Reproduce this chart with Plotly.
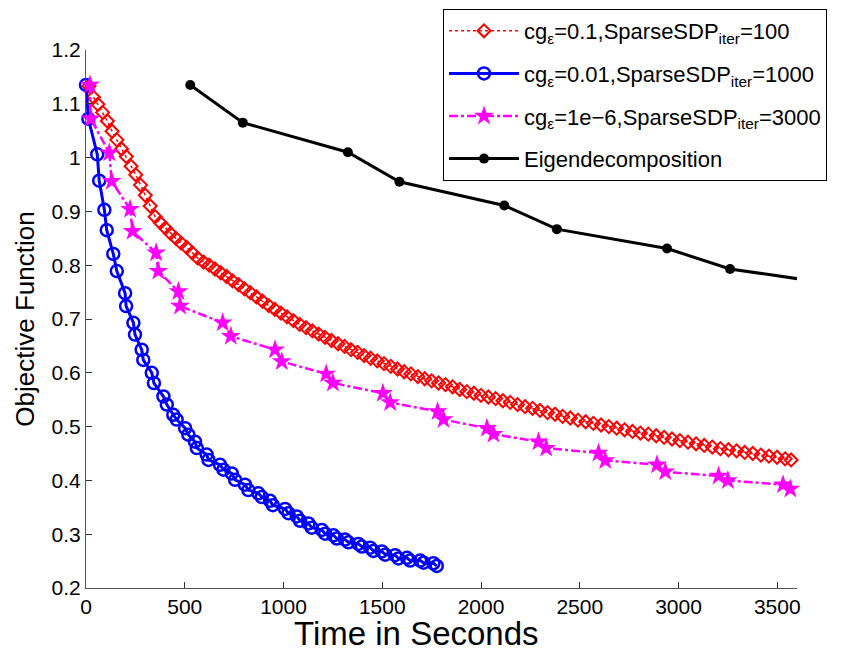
import plotly.graph_objects as go

# ---------------- data ----------------
red_x = [15, 38, 60, 84, 108, 132, 156, 180, 204, 228, 252, 276, 300, 325, 350, 376, 402, 428, 455, 482,
         510, 538, 566, 595, 624, 653, 682, 712, 742, 772, 802, 832, 863, 894, 925, 956, 987, 1018, 1050, 1082,
         1114, 1146, 1178, 1210, 1243, 1276, 1309, 1342, 1375, 1408, 1441, 1475, 1509, 1543, 1577, 1611, 1645,
         1680, 1715, 1750, 1785, 1820, 1856, 1892, 1928, 1964, 2000, 2037, 2074, 2111, 2148, 2185, 2223, 2261,
         2299, 2337, 2375, 2413, 2452, 2491, 2530, 2569, 2608, 2647, 2687, 2727, 2767, 2807, 2847, 2887, 2927,
         2967, 3007, 3048, 3089, 3130, 3171, 3212, 3253, 3294, 3335, 3376, 3417, 3458, 3499, 3540, 3570]
red_y = [1.133, 1.112, 1.099, 1.084, 1.068, 1.049, 1.033, 1.016, 1.002, 0.984, 0.968, 0.949, 0.930, 0.910,
         0.890, 0.879, 0.869, 0.859, 0.850, 0.841, 0.833, 0.823, 0.813, 0.806, 0.800, 0.793, 0.786, 0.779,
         0.771, 0.764, 0.756, 0.749, 0.741, 0.733, 0.725, 0.718, 0.711, 0.704, 0.697, 0.690, 0.684, 0.678,
         0.672, 0.666, 0.660, 0.654, 0.649, 0.643, 0.638, 0.632, 0.627, 0.622, 0.617, 0.612, 0.607, 0.602,
         0.598, 0.593, 0.589, 0.585, 0.581, 0.578, 0.574, 0.569, 0.565, 0.562, 0.558, 0.555, 0.552, 0.548,
         0.545, 0.541, 0.537, 0.534, 0.530, 0.526, 0.523, 0.519, 0.516, 0.512, 0.509, 0.506, 0.503, 0.500,
         0.497, 0.494, 0.491, 0.488, 0.486, 0.483, 0.480, 0.477, 0.474, 0.471, 0.468, 0.465, 0.462, 0.459,
         0.457, 0.455, 0.452, 0.450, 0.447, 0.445, 0.443, 0.440, 0.438]

blue_x = [0, 12, 57, 67, 93, 105, 138, 156, 198, 203, 240, 248, 282, 290, 333, 344, 392, 409, 442, 459,
          502, 518, 552, 561, 611, 620, 679, 696, 738, 755, 805, 822, 873, 890, 932, 946, 1008, 1025, 1067,
          1084, 1126, 1143, 1194, 1211, 1253, 1270, 1312, 1329, 1379, 1397, 1439, 1455, 1498, 1515, 1565,
          1582, 1625, 1641, 1692, 1709, 1759, 1776]
blue_y = [1.135, 1.072, 1.006, 0.957, 0.903, 0.865, 0.821, 0.789, 0.748, 0.724, 0.693, 0.671, 0.643, 0.624,
          0.600, 0.581, 0.556, 0.541, 0.522, 0.513, 0.497, 0.485, 0.472, 0.460, 0.448, 0.438, 0.429, 0.420,
          0.413, 0.401, 0.392, 0.382, 0.376, 0.369, 0.362, 0.354, 0.347, 0.339, 0.333, 0.325, 0.320, 0.312,
          0.308, 0.301, 0.298, 0.292, 0.290, 0.285, 0.282, 0.277, 0.275, 0.269, 0.268, 0.262, 0.261, 0.255,
          0.256, 0.251, 0.251, 0.247, 0.246, 0.241]

mag_x = [20, 24, 118, 130, 223, 236, 355, 366, 468, 476, 692, 733, 957, 991, 1216, 1250, 1503, 1540,
         1780, 1810, 2030, 2063, 2291, 2330, 2595, 2629, 2891, 2933, 3203, 3250, 3529, 3566]
mag_y = [1.135, 1.072, 1.009, 0.956, 0.904, 0.863, 0.823, 0.789, 0.751, 0.724, 0.693, 0.668, 0.643, 0.621,
         0.598, 0.581, 0.562, 0.545, 0.528, 0.513, 0.497, 0.486, 0.472, 0.460, 0.451, 0.437, 0.429, 0.416,
         0.408, 0.400, 0.392, 0.384]

eig_x = [528, 794, 1326, 1587, 2118, 2384, 2942, 3261, 3790]
eig_y = [1.135, 1.065, 1.010, 0.955, 0.911, 0.867, 0.831, 0.793, 0.765]

x_ticks = [0, 500, 1000, 1500, 2000, 2500, 3000, 3500]
y_ticks = [0.2, 0.3, 0.4, 0.5, 0.6, 0.7, 0.8, 0.9, 1.0, 1.1, 1.2]
y_tick_text = ["0.2", "0.3", "0.4", "0.5", "0.6", "0.7", "0.8", "0.9", "1", "1.1", "1.2"]

names = ["cg<sub>ε</sub>=0.1,SparseSDP<sub>iter</sub>=100",
         "cg<sub>ε</sub>=0.01,SparseSDP<sub>iter</sub>=1000",
         "cg<sub>ε</sub>=1e−6,SparseSDP<sub>iter</sub>=3000",
         "Eigendecomposition"]
x_title = "Time in Seconds"
y_title = "Objective Function"

FONT = "Liberation Sans, Arial, sans-serif"
OFF = 8  # default page body margin

fig = go.Figure()
fig.add_trace(go.Scatter(x=red_x, y=red_y, name=names[0], mode="lines+markers", legendgroup="a",
                         line=dict(color="#ff0000", width=1.5, dash="dot"),
                         marker=dict(symbol="diamond-open", size=10, color="#ff0000", line=dict(width=2, color="#ff0000")),
                         cliponaxis=False))
fig.add_trace(go.Scatter(x=blue_x, y=blue_y, name=names[1], mode="lines+markers", legendgroup="b",
                         line=dict(color="#0000ff", width=3),
                         marker=dict(symbol="circle-open", size=12, color="#0000ff", line=dict(width=2.5, color="#0000ff")),
                         cliponaxis=False))
fig.add_trace(go.Scatter(x=mag_x, y=mag_y, name=names[2], mode="lines+markers", legendgroup="c",
                         line=dict(color="#ff00ff", width=2.5, dash="dashdot"),
                         marker=dict(symbol="star", size=15, color="#ff00ff", line=dict(width=0)),
                         cliponaxis=False))
fig.add_trace(go.Scatter(x=eig_x, y=eig_y, name=names[3], mode="lines+markers", legendgroup="d",
                         line=dict(color="#000000", width=3),
                         marker=dict(symbol="circle", size=10, color="#000000")))

fig.add_annotation(text=x_title, xref="paper", yref="paper", x=(416 - 86) / 711, y=-(633 - 588) / 538,
                   xanchor="center", yanchor="middle", showarrow=False,
                   font=dict(size=33, family=FONT, color="black"))

fig.update_layout(
    width=864, height=648,
    margin=dict(l=86 - OFF, r=67 + OFF, t=50 - OFF, b=60 + OFF, autoexpand=False),
    paper_bgcolor="white", plot_bgcolor="white",
    font=dict(family=FONT, color="black", size=20),
    showlegend=True,
    legend=dict(xref="container", yref="container", x=(443 - OFF) / 864, y=1 - (9 - OFF) / 648,
                xanchor="left", yanchor="top", itemwidth=70,
                bgcolor="white", bordercolor="black", borderwidth=1,
                font=dict(size=22, family=FONT), tracegroupgap=11),
    xaxis=dict(range=[0, 3600], tickvals=x_ticks, ticks="inside", ticklen=6, tickcolor="#333333",
               showline=True, linecolor="#555555", linewidth=1, showgrid=False, zeroline=False,
               automargin=False, tickfont=dict(size=21)),
    yaxis=dict(range=[0.2, 1.2], tickvals=y_ticks, ticktext=y_tick_text, ticks="inside", ticklen=6,
               tickcolor="#333333", showline=True, linecolor="#555555", linewidth=1, showgrid=False,
               zeroline=False, automargin=False, tickfont=dict(size=21),
               title=dict(text=y_title, font=dict(size=26), standoff=9)),
)

fig.write_html("out.html")
